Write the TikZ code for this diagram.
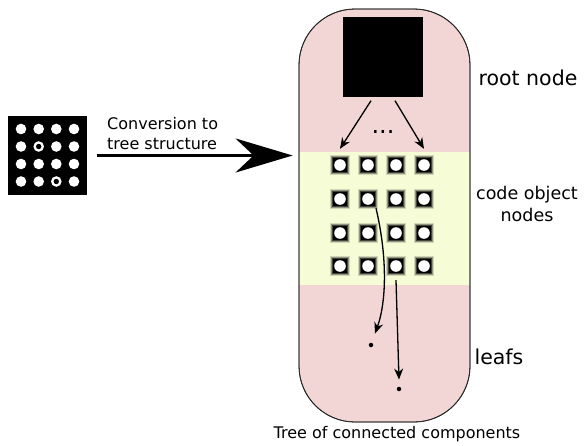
\documentclass[tikz,border=0pt]{standalone}
\usepackage{fontspec}
\setmainfont{DejaVu Sans}
\usetikzlibrary{arrows.meta,calc}
\definecolor{pinkfill}{RGB}{242,213,213}
\definecolor{bandfill}{RGB}{246,252,214}
\tikzset{
  arr/.style={line width=1.3pt,-{Stealth[length=11pt,width=9pt,inset=3.5pt]}},
  bigarr/.style={line width=3pt,-{Stealth[length=57pt,width=34pt,inset=18pt]}},
  cell/.style={fill=black,minimum size=14pt,inner sep=0pt,
    path picture={\fill[white] (path picture bounding box.center) circle (5.8pt);}},
  glow/.style={fill=black,opacity=#1},
  dot/.style={circle,fill=black,minimum size=4.5pt,inner sep=0pt},
  lbl/.style 2 args={font=\fontsize{#1}{#2}\selectfont,align=center,inner sep=0pt},
}
\begin{document}
\begin{tikzpicture}[x=1pt,y=-1pt]
\useasboundingbox (0,0) rectangle (584,445);
% tree capsule
\node[draw=black!85,line width=0.8pt,fill=pinkfill,rounded corners=56pt,
  minimum width=171pt,minimum height=413pt,inner sep=0pt,
  path picture={\fill[bandfill,sharp corners] ([yshift=-143pt]path picture bounding box.north west)
     rectangle ([yshift=-276pt]path picture bounding box.north east);}]
  (tree) at (384.5,215.5) {};
\draw[black!85,line width=0.8pt,rounded corners=56pt] (299,9) rectangle (470,422);
% root
\node[fill=black,minimum size=80pt,inner sep=0pt] (root) at (383,56.5) {};
% grid
\foreach \r/\y in {1/165,2/199,3/233,4/266}{
  \foreach \c/\x in {1/340,2/368,3/396,4/424}{
    \fill[glow=.15] (\x-10,\y-10) rectangle (\x+10,\y+10);
    \fill[glow=.3] (\x-9,\y-9) rectangle (\x+9,\y+9);
    \fill[glow=.55] (\x-8,\y-8) rectangle (\x+8,\y+8);
    \node[cell] (g\r\c) at (\x,\y) {};
  }
}
\node[lbl={24}{28}] (dots) at (383,132) {...};
\draw[arr] ([xshift=-12pt,yshift=-4pt]root.south) -- ([yshift=9pt]g11.north);
\draw[arr] ([xshift=12pt,yshift=-4pt]root.south) -- ([yshift=9pt]g14.north);
% leaves
\node[dot] (leafA) at (371,345) {};
\node[dot] (leafB) at (399,389) {};
\draw[arr] ([xshift=8pt,yshift=-2pt]g22.south) .. controls (387,255) and (387,300) .. ([xshift=4pt,yshift=9pt]leafA.north);
\draw[arr] ([yshift=-7pt]g43.south) -- ([yshift=7pt]leafB.north);
% input image
\node[fill=black,minimum size=79pt,inner sep=0pt] (img) at (47.5,155.5) {};
\foreach \r/\y in {1/129,2/146.5,3/164,4/181.5}{
  \foreach \c/\x in {1/21,2/38.7,3/56.3,4/74}{
    \fill[white] (\x,\y) circle (5.3pt);
  }
}
\fill[black] (38.7,146.5) circle (2.7pt);
\fill[black] (56.3,181.5) circle (2.7pt);
% conversion arrow
\draw[bigarr,shorten <=10pt,shorten >=6pt] (img.east) -- (img.east -| tree.west);
\node[lbl={16}{20},align=left,anchor=west] (conv) at (107,134) {Conversion to\\tree structure};
% labels
\node[lbl={20.5}{24}] (rootlbl) at (528,78) {root node};
\node[lbl={17.5}{22}] (codelbl) at (527,204) {code object\\nodes};
\node[lbl={20.5}{24}] (leaflbl) at (499,357) {leafs};
\node[lbl={16}{20}] (caption) at (397,434) {Tree of connected components};
\end{tikzpicture}
\end{document}
